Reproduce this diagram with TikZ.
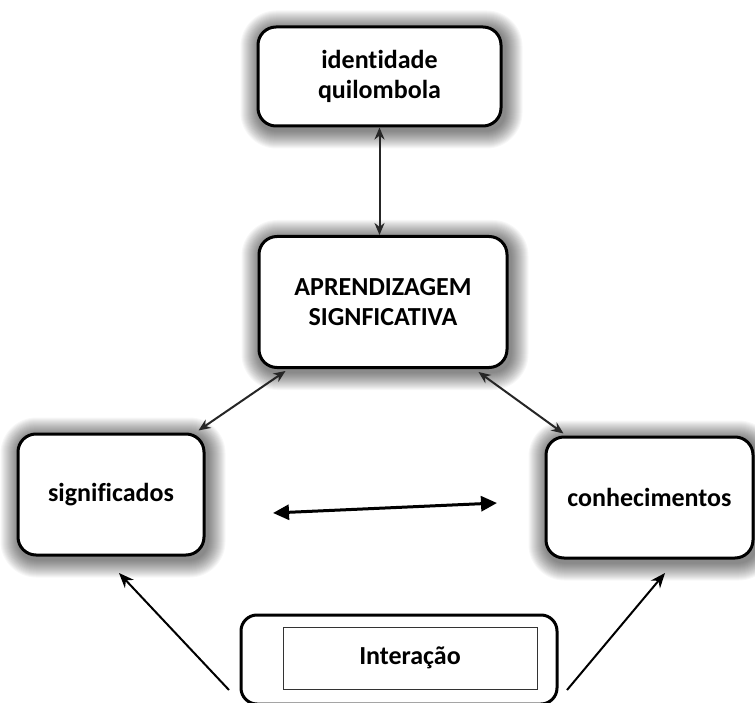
\documentclass[tikz,border=0pt]{standalone}
\usepackage{fontspec}
\setmainfont{Carlito}[Ligatures={NoCommon}]
\usetikzlibrary{arrows.meta,calc,backgrounds}
\begin{document}
\begin{tikzpicture}[x=1pt,y=-1pt,
  box/.style={draw=black, line width=3pt, rounded corners=18pt, fill=white,
    align=center, font=\fontsize{26}{30}\selectfont\bfseries, inner sep=0pt},
  thinarrow/.style={draw=black!85, line width=2pt, {Stealth[length=12pt,width=10pt]}-{Stealth[length=12pt,width=10pt]}},
  thickarrow/.style={draw=black, line width=3pt, {Triangle[length=16pt,width=15pt]}-{Triangle[length=16pt,width=15pt]}},
  uparrow/.style={draw=black, line width=2pt, -{Stealth[length=15pt,width=12pt]}},
  glow/.style={fill=black, fill opacity=0.03}
]
\useasboundingbox (0,0) rectangle (755,703);

\node[box, minimum width=243pt, minimum height=99pt] (top) at (379.5,76.5) {identidade\\quilombola};
\node[box, minimum width=248pt, minimum height=131pt] (mid) at (383,302) {APRENDIZAGEM\\SIGNFICATIVA};
\node[box, minimum width=186pt, minimum height=121pt] (left) at (111,494.5) {significados};
\node[box, minimum width=207pt, minimum height=121pt] (right) at (649.5,497.5) {conhecimentos};

\node[draw=black, line width=3pt, rounded corners=16pt, minimum width=316pt, minimum height=89pt, inner sep=0pt] (outer) at (399,659.5) {};
\node[draw=black!80, line width=1pt, minimum width=254pt, minimum height=62pt, inner sep=0pt,
  font=\fontsize{26}{30}\selectfont\bfseries] (inter) at (410,658) {Interação};

\begin{pgfonlayer}{background}
\fill[white] (0,0) rectangle (755,703);
\foreach \n in {top,mid,left,right}{
  \foreach \k in {1,...,18}{
    \fill[glow, rounded corners=18pt+\k pt]
      ($(\n.north west)+(2-\k,3-\k)$) rectangle ($(\n.south east)+(2+\k,3+\k)$);
  }
}
\end{pgfonlayer}

% connectors
\draw[thinarrow] (top.south) -- (top.south |- mid.north);
\draw[thinarrow] ([xshift=28pt,yshift=-2pt]mid.south west) -- ([xshift=-7pt,yshift=2pt]left.north east);
\draw[thinarrow] ([xshift=-30pt,yshift=-3pt]mid.south east) -- ([xshift=19pt,yshift=2pt]right.north west);

\coordinate (h1) at (273,513);
\coordinate (h2) at (497,503);
\draw[thickarrow] (h1) -- (h2);

\coordinate (bl) at (229,690);
\coordinate (br) at (567,690);
\coordinate (tl) at (119,573);
\coordinate (tr) at (665,573);
\draw[uparrow] (bl) -- (tl);
\draw[uparrow] (br) -- (tr);
\end{tikzpicture}
\end{document}
